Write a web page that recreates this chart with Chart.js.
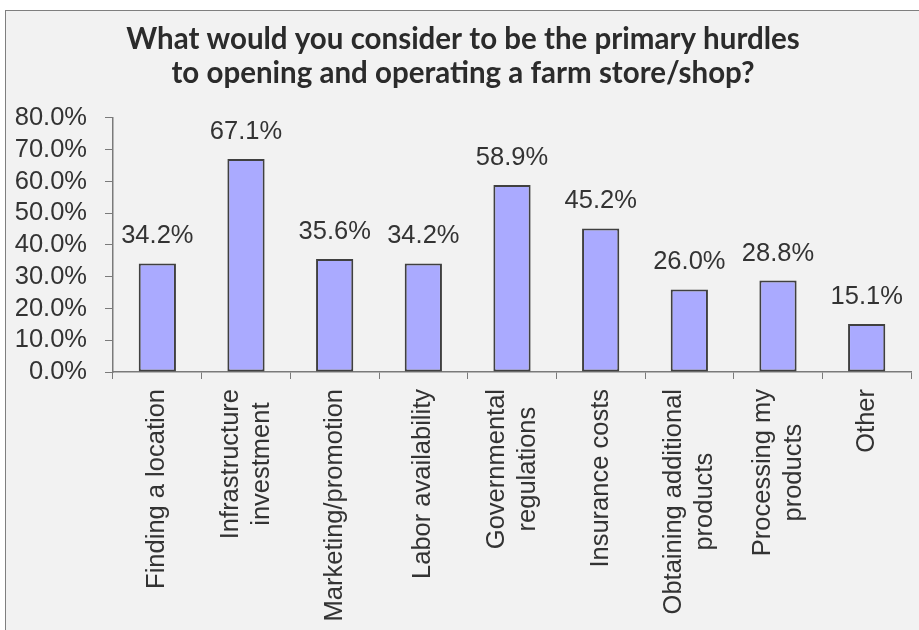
<!DOCTYPE html>
<html>
<head>
<meta charset="utf-8">
<script src="https://cdn.jsdelivr.net/npm/chart.js@4/dist/chart.umd.min.js"></script>
<style>
  html, body { margin: 0; padding: 0; background: #fff; overflow: hidden; }
  #frame { position: absolute; left: 5px; top: 10px; width: 940px; height: 640px;
           border: 1px solid #7f7f7f; background: #f2f2f2; }
  #wrap { position: absolute; left: 0; top: 0; width: 919px; height: 630px; }
</style>
</head>
<body>
<div id="frame"></div>
<div id="wrap"><canvas id="chart" width="919" height="630"></canvas></div>
<script>
const titleLines = [
    "What would you consider to be the primary hurdles",
    "to opening and operating a farm store/shop?"
];
const categories = [
    ["Finding a location"],
    ["Infrastructure", "investment"],
    ["Marketing/promotion"],
    ["Labor availability"],
    ["Governmental", "regulations"],
    ["Insurance costs"],
    ["Obtaining additional", "products"],
    ["Processing my", "products"],
    ["Other"]
];
const values = [34.2, 67.1, 35.6, 34.2, 58.9, 45.2, 26.0, 28.8, 15.1];
const yMin = 0;
const yMax = 80;
const yStep = 10;

const TEXT = "#333333";
const AXIS = "#7a7a7a";
const SANS = "'Liberation Sans', Arial, sans-serif";
const LABEL_SIZE = 25.5;

Chart.defaults.font.family = SANS;
Chart.defaults.color = TEXT;

// percentage above each bar
const valueLabels = {
    id: "valueLabels",
    afterDatasetsDraw(chart) {
        const ctx = chart.ctx;
        const meta = chart.getDatasetMeta(0);
        ctx.save();
        ctx.font = LABEL_SIZE + "px " + SANS;
        ctx.fillStyle = TEXT;
        ctx.textAlign = "center";
        ctx.textBaseline = "alphabetic";
        meta.data.forEach((bar, i) => {
            ctx.fillText(values[i].toFixed(1) + "%", bar.x, bar.y - 20);
        });
        ctx.restore();
    }
};

// vertical category names, lines centred on each other, hanging from the axis
const categoryLabels = {
    id: "categoryLabels",
    afterDraw(chart) {
        const ctx = chart.ctx;
        const xScale = chart.scales.x;
        const top = xScale.top + 17;
        const lineGap = 31;
        ctx.save();
        ctx.font = LABEL_SIZE + "px " + SANS;
        ctx.fillStyle = TEXT;
        ctx.textAlign = "center";
        ctx.textBaseline = "middle";
        categories.forEach((lines, i) => {
            const cx = xScale.getPixelForTick(i);
            const maxW = Math.max(...lines.map(l => ctx.measureText(l).width));
            const cy = top + maxW / 2;
            lines.forEach((line, j) => {
                const x = cx + (j - (lines.length - 1) / 2) * lineGap;
                ctx.save();
                ctx.translate(x, cy);
                ctx.rotate(-Math.PI / 2);
                ctx.fillText(line, 0, 0);
                ctx.restore();
            });
        });
        ctx.restore();
    }
};

new Chart(document.getElementById("chart"), {
    type: "bar",
    data: {
        labels: categories,
        datasets: [{
            data: values,
            backgroundColor: "#aaaaff",
            borderColor: "#404040",
            borderWidth: 2,
            borderSkipped: false,
            categoryPercentage: 1,
            barPercentage: 0.42
        }]
    },
    options: {
        responsive: false,
        animation: false,
        layout: { padding: { left: 15, right: 8, top: 0, bottom: 0 } },
        plugins: {
            legend: { display: false },
            tooltip: { enabled: false },
            title: {
                display: true,
                text: titleLines,
                color: "#2b2b2b",
                font: { family: "Lato", weight: "bold", size: 29.5, lineHeight: 1.186 },
                padding: { top: 21.5, bottom: 26.5 }
            }
        },
        scales: {
            x: {
                afterFit(scale) { scale.height = 258; },
                ticks: { display: false },
                grid: {
                    offset: true,
                    drawOnChartArea: false,
                    drawTicks: true,
                    tickLength: 7,
                    color: AXIS
                },
                border: { color: AXIS, width: 1.5 }
            },
            y: {
                min: yMin,
                max: yMax,
                afterFit(scale) { scale.width = 98; },
                ticks: {
                    stepSize: yStep,
                    autoSkip: false,
                    padding: 18,
                    font: { size: LABEL_SIZE },
                    color: TEXT,
                    callback: v => v.toFixed(1) + "%"
                },
                grid: {
                    drawOnChartArea: false,
                    drawTicks: true,
                    tickLength: 8,
                    color: AXIS
                },
                border: { color: AXIS, width: 1.5 }
            }
        }
    },
    plugins: [valueLabels, categoryLabels]
});
</script>
</body>
</html>
